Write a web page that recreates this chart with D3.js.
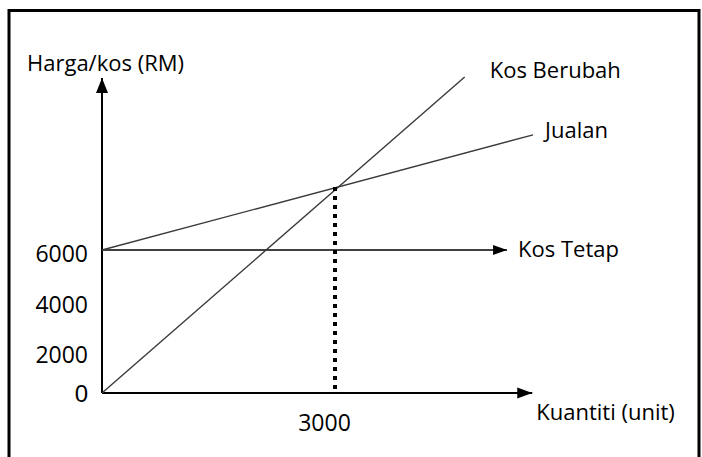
<!DOCTYPE html>
<html>
<head>
<meta charset="utf-8">
<script src="https://cdn.jsdelivr.net/npm/d3@7"></script>
<style>
	body { margin: 0; background: #fff; }
	svg { display: block; }
	text { font-family: "Open Sans", sans-serif; font-size: 22px; fill: #000; }
	.tick text { font-size: 23px; }
	.curve { fill: none; stroke: #3a3a3a; stroke-width: 1.4; }
	.axis-line { fill: none; stroke: #000; stroke-width: 2; }
</style>
</head>
<body>
<svg width="702" height="457"></svg>
<script>
// values (quantity in units, price/cost in RM)
var yTicks = [0, 2000, 4000, 6000];
var xTicks = [3000];
var kosBerubah = [[0, 0], [4670, 12720]];
var jualan = [[0, 6000], [5550, 10470]];
var kosTetap = [[0, 6000], [5215, 6000]];
var breakEven = [3000, 8450];
var xAxisEnd = 5540;
var yAxisEnd = 12680;

var labels = [
	{ text: "Kos Berubah", at: kosBerubah[1], dx: 25, dy: 1 },
	{ text: "Jualan", at: jualan[1], dx: 12, dy: 3 },
	{ text: "Kos Tetap", at: kosTetap[1], dx: 11, dy: 7 },
	{ text: "Kuantiti (unit)", at: [xAxisEnd, 0], dx: 4, dy: 27 }
];

var svg = d3.select("svg");

// page frame
svg.append("rect")
	.attr("x", 9)
	.attr("y", 10.5)
	.attr("width", 690)
	.attr("height", 520)
	.attr("fill", "none")
	.attr("stroke", "#000")
	.attr("stroke-width", 3);

var x = d3.scaleLinear().domain([0, 3000]).range([102, 335]);
// the tick labels are not evenly spaced in the picture
var y = d3.scaleLinear().domain([0, 2000, 4000, 6000]).range([393, 351.5, 301.5, 250]);

function arrow(tx, ty, dir, len, half) {
	// dir: "up" or "right"
	var pts = dir === "up"
		? [[tx, ty], [tx - half, ty + len], [tx + half, ty + len]]
		: [[tx, ty], [tx - len, ty - half], [tx - len, ty + half]];
	svg.append("path")
		.attr("d", "M" + pts.join("L") + "Z")
		.attr("fill", "#000");
}

var line = d3.line()
	.x(function(d) { return x(d[0]); })
	.y(function(d) { return y(d[1]); });

// axes
svg.append("path")
	.attr("class", "axis-line")
	.attr("d", line([[0, 0], [0, yAxisEnd]]));
arrow(x(0), y(yAxisEnd), "up", 15, 6);

svg.append("path")
	.attr("class", "axis-line")
	.attr("d", line([[0, 0], [xAxisEnd, 0]]));
arrow(x(xAxisEnd), y(0), "right", 15, 5.5);

// fixed cost
svg.append("path")
	.attr("fill", "none")
	.attr("stroke", "#000")
	.attr("stroke-width", 1.6)
	.attr("d", line(kosTetap));
arrow(x(kosTetap[1][0]), y(kosTetap[1][1]), "right", 14, 5);

svg.selectAll(".curve")
	.data([kosBerubah, jualan])
	.enter().append("path")
	.attr("class", "curve")
	.attr("d", line);

// break-even drop line
svg.append("line")
	.attr("x1", x(breakEven[0]))
	.attr("x2", x(breakEven[0]))
	.attr("y1", y(breakEven[1]))
	.attr("y2", y(0))
	.attr("stroke", "#000")
	.attr("stroke-width", 4)
	.attr("stroke-dasharray", "4,5");

// y tick labels
var yAxis = svg.append("g")
	.attr("transform", "translate(" + x(0) + ",0)")
	.call(d3.axisLeft(y).tickValues(yTicks).tickSize(0).tickPadding(14).tickFormat(d3.format("d")));
yAxis.select(".domain").remove();
yAxis.selectAll("text")
	.attr("font-family", null)
	.attr("font-size", null)
	.attr("dy", function(d) { return d === 0 ? "0.36em" : "0.48em"; })
	.style("font-family", function(d) { return d === 0 ? "Arial, 'Liberation Sans'" : null; })
	.style("font-size", function(d) { return d === 0 ? "24px" : null; });

// x tick labels
var xAxis = svg.append("g")
	.attr("transform", "translate(0," + y(0) + ")")
	.call(d3.axisBottom(x).tickValues(xTicks).tickSize(0).tickPadding(22).tickFormat(d3.format("d")));
xAxis.select(".domain").remove();
xAxis.selectAll("text")
	.attr("font-family", null)
	.attr("font-size", null)
	.attr("dx", -11);

// axis title
svg.append("text")
	.attr("x", 27)
	.attr("y", y(yAxisEnd) - 7)
	.text("Harga/kos (RM)");

svg.selectAll(".series-label")
	.data(labels)
	.enter().append("text")
	.attr("class", "series-label")
	.attr("x", function(d) { return x(d.at[0]) + d.dx; })
	.attr("y", function(d) { return y(d.at[1]) + d.dy; })
	.text(function(d) { return d.text; });
</script>
</body>
</html>
